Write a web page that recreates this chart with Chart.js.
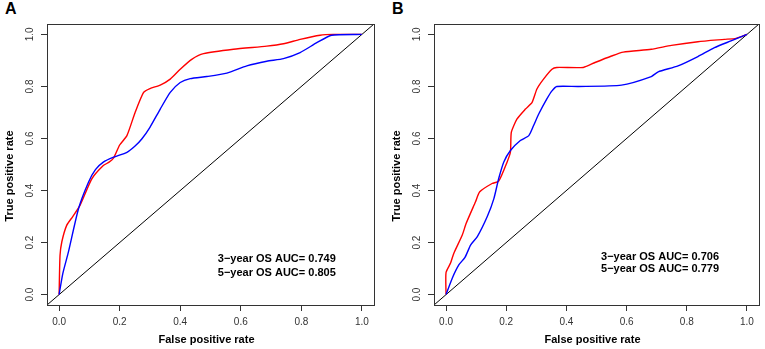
<!DOCTYPE html>
<html>
<head>
<meta charset="utf-8">
<script src="https://cdn.jsdelivr.net/npm/chart.js@4"></script>
<style>
body { margin: 0; background: #fff; }
#wrap { position: relative; width: 765px; height: 349px; font-family: 'Liberation Sans', Arial, sans-serif; }
canvas { position: absolute; top: 0; }
.tag { position: absolute; top: 0px; font-weight: bold; font-size: 16px; color: #000; }
</style>
</head>
<body>
<div id="wrap">
  <div class="tag" style="left:5px">A</div>
  <canvas id="chartA" width="380" height="349" style="left:0"></canvas>
  <div class="tag" style="left:392px">B</div>
  <canvas id="chartB" width="378" height="349" style="left:387px"></canvas>
</div>
<script>
// axis ticks shared by both panels
const tickValues = [0, 0.2, 0.4, 0.6, 0.8, 1.0];
const diagonal = [-0.04, 1.04];
const xTitle = 'False positive rate';
const yTitle = 'True positive rate';

// panel A
const fprA3 = [0, 0.012, 0.031, 0.064, 0.097, 0.12, 0.146, 0.18, 0.224, 0.25, 0.273, 0.30, 0.334, 0.367, 0.40, 0.433, 0.488, 0.554, 0.62, 0.686, 0.741, 0.796, 0.851, 0.90, 1];
const tprA3 = [0, 0.08, 0.165, 0.33, 0.432, 0.48, 0.509, 0.528, 0.547, 0.57, 0.598, 0.643, 0.713, 0.777, 0.815, 0.83, 0.838, 0.851, 0.879, 0.897, 0.907, 0.93, 0.968, 0.997, 1];
const fprA5 = [0, 0.003, 0.009, 0.025, 0.045, 0.069, 0.108, 0.146, 0.165, 0.18, 0.2, 0.224, 0.251, 0.279, 0.30, 0.334, 0.367, 0.4, 0.438, 0.477, 0.576, 0.686, 0.741, 0.796, 0.862, 0.906, 1];
const tprA5 = [0, 0.15, 0.203, 0.266, 0.30, 0.343, 0.445, 0.496, 0.509, 0.525, 0.575, 0.611, 0.70, 0.777, 0.792, 0.805, 0.828, 0.866, 0.904, 0.926, 0.943, 0.955, 0.964, 0.981, 0.997, 1, 1];
const aucA = ['3\u2212year OS AUC= 0.749', '5\u2212year OS AUC= 0.805'];

// panel B
const fprB3 = [0, 0.021, 0.043, 0.063, 0.082, 0.104, 0.137, 0.159, 0.175, 0.192, 0.214, 0.247, 0.275, 0.291, 0.308, 0.335, 0.352, 0.368, 0.44, 0.583, 0.682, 0.705, 0.771, 0.837, 0.892, 0.947, 1];
const tprB3 = [0, 0.064, 0.115, 0.143, 0.191, 0.223, 0.30, 0.369, 0.446, 0.51, 0.554, 0.592, 0.611, 0.65, 0.694, 0.752, 0.783, 0.80, 0.80, 0.805, 0.838, 0.856, 0.879, 0.915, 0.949, 0.975, 1];
const fprB5 = [0, 0, 0.015, 0.026, 0.054, 0.067, 0.098, 0.112, 0.153, 0.175, 0.203, 0.214, 0.217, 0.236, 0.264, 0.286, 0.302, 0.324, 0.352, 0.368, 0.456, 0.495, 0.55, 0.589, 0.682, 0.749, 0.837, 0.925, 0.964, 1];
const tprB5 = [0, 0.085, 0.121, 0.159, 0.229, 0.274, 0.357, 0.395, 0.427, 0.436, 0.51, 0.548, 0.624, 0.675, 0.713, 0.739, 0.79, 0.828, 0.866, 0.873, 0.873, 0.892, 0.917, 0.932, 0.943, 0.958, 0.972, 0.981, 0.985, 1];
const aucB = ['3\u2212year OS AUC= 0.706', '5\u2212year OS AUC= 0.779'];

const fontFamily = "'Liberation Sans', Arial, sans-serif";

// R style box round the plot region
const boxPlugin = {
    id: 'rbox',
    afterDraw(chart) {
        const a = chart.chartArea;
        const ctx = chart.ctx;
        ctx.save();
        ctx.strokeStyle = '#333';
        ctx.lineWidth = 1;
        ctx.strokeRect(Math.round(a.left) + 0.5, Math.round(a.top) + 0.5,
            Math.round(a.right - a.left), Math.round(a.bottom - a.top));
        ctx.restore();
    }
};

// axis titles, placed a bit off centre like the original
const titlePlugin = {
    id: 'rtitles',
    afterDraw(chart) {
        const ctx = chart.ctx;
        const xs = chart.scales.x;
        ctx.save();
        ctx.font = 'bold 11px ' + fontFamily;
        ctx.fillStyle = '#000';
        ctx.textAlign = 'center';
        ctx.textBaseline = 'middle';
        ctx.fillText(xTitle, xs.getPixelForValue(0.5) - 4, 340);
        ctx.translate(10, 176);
        ctx.rotate(-Math.PI / 2);
        ctx.fillText(yTitle, 0, 0);
        ctx.restore();
    }
};

const aucPlugin = {
    id: 'auc',
    afterDatasetsDraw(chart, args, opts) {
        const ctx = chart.ctx;
        const xs = chart.scales.x;
        const ys = chart.scales.y;
        ctx.save();
        ctx.font = 'bold 11px ' + fontFamily;
        ctx.fillStyle = '#000';
        ctx.textAlign = 'left';
        ctx.textBaseline = 'middle';
        opts.lines.forEach((t, i) => {
            ctx.fillText(t, xs.getPixelForValue(opts.x), ys.getPixelForValue(opts.y[i]));
        });
        ctx.restore();
    }
};

function toPoints(xs, ys) {
    return xs.map((x, i) => ({ x: x, y: ys[i] }));
}

function makeChart(id, fpr3, tpr3, fpr5, tpr5, auc, aucPos) {
    const axis = (horizontal) => ({
        type: 'linear',
        min: -0.04,
        max: 1.04,
        afterBuildTicks: s => { s.ticks = tickValues.map(v => ({ value: v })); },
        afterFit: s => {
            if (horizontal) s.height = 44; else s.width = 47;
        },
        grid: { display: true, drawOnChartArea: false, drawTicks: true, tickLength: 6, color: '#333', lineWidth: 1 },
        border: { display: false },
        ticks: {
            color: '#333',
            font: { family: fontFamily, size: 10 },
            padding: horizontal ? 5 : 4,
            minRotation: horizontal ? 0 : 90,
            maxRotation: horizontal ? 0 : 90,
            crossAlign: horizontal ? 'near' : 'center',
            callback: v => v.toFixed(1)
        },
        title: { display: false }
    });

    return new Chart(document.getElementById(id), {
        type: 'scatter',
        data: {
            datasets: [
                { label: '3-year OS', data: toPoints(fpr3, tpr3), borderColor: 'blue', borderWidth: 1.4, showLine: true, pointRadius: 0, tension: 0.2 },
                { label: '5-year OS', data: toPoints(fpr5, tpr5), borderColor: 'red', borderWidth: 1.4, showLine: true, pointRadius: 0, tension: 0.2 },
                { label: 'reference', data: toPoints(diagonal, diagonal), borderColor: '#000', borderWidth: 1, showLine: true, pointRadius: 0 }
            ]
        },
        options: {
            responsive: false,
            animation: false,
            devicePixelRatio: 1,
            layout: { padding: { left: 0, right: 6, top: 24, bottom: 0 } },
            plugins: {
                legend: { display: false },
                tooltip: { enabled: false },
                auc: { lines: auc, x: aucPos.x, y: aucPos.y }
            },
            scales: {
                x: axis(true),
                y: axis(false)
            }
        },
        plugins: [boxPlugin, titlePlugin, aucPlugin]
    });
}

makeChart('chartA', fprA3, tprA3, fprA5, tprA5, aucA, { x: 0.524, y: [0.136, 0.083] });
makeChart('chartB', fprB3, tprB3, fprB5, tprB5, aucB, { x: 0.515, y: [0.145, 0.097] });
</script>
</body>
</html>
